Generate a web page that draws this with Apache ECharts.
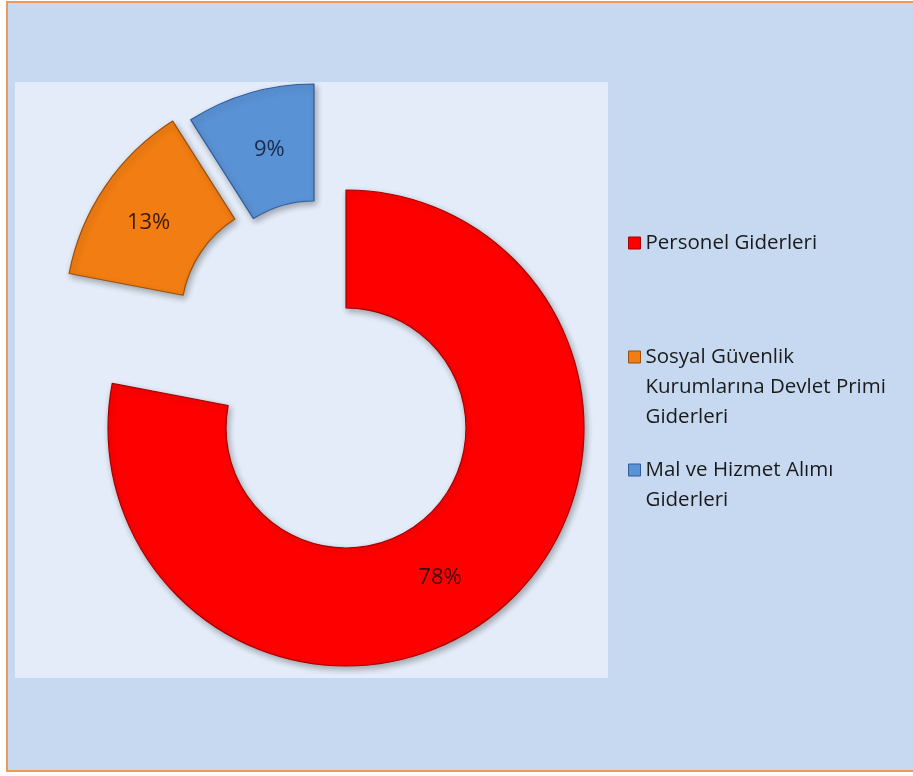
<!DOCTYPE html>
<html>
<head>
<meta charset="utf-8">
<script src="https://cdn.jsdelivr.net/npm/echarts@6/dist/echarts.min.js"></script>
<style>
html,body{margin:0;padding:0;background:#ffffff;}
#chart{width:913px;height:776px;}
</style>
</head>
<body>
<div id="chart"></div>
<script>
// Data
const categories = ['Personel Giderleri', 'Sosyal Güvenlik Kurumlarına Devlet Primi Giderleri', 'Mal ve Hizmet Alımı Giderleri'];
const legendLines = [
  ['Personel Giderleri'],
  ['Sosyal Güvenlik', 'Kurumlarına Devlet Primi', 'Giderleri'],
  ['Mal ve Hizmet Alımı', 'Giderleri']
];
const values = [78, 13, 9];

// Styles
const fills = ['#ff0000', '#f27d12', '#5a92d6'];
const borders = ['#a80000', '#9c4f0a', '#2f5c9a'];
const labelColors = ['#3a0a0a', '#3a1a05', '#1a2a4a'];
const labelOffsets = [[-22, 10], [-2, 5], [4, 3]];
const centers = [[346, 428], [297, 317], [314, 314]];
const radii = [[120, 238], [116, 232], [113, 230]];
const FONT = '"Open Sans", "Noto Sans", sans-serif';

const chart = echarts.init(document.getElementById('chart'), null, {renderer: 'canvas'});

const series = categories.map(function (_, k) {
  return {
    type: 'pie',
    center: centers[k],
    radius: radii[k],
    startAngle: 90,
    clockwise: true,
    silent: true,
    animation: false,
    avoidLabelOverlap: false,
    percentPrecision: 0,
    labelLine: {show: false},
    data: categories.map(function (name, i) {
      const vis = i === k;
      return {
        name: name,
        value: values[i],
        itemStyle: vis ? {
          color: fills[i],
          borderColor: borders[i],
          borderWidth: 1.2,
          shadowBlur: 6,
          shadowOffsetX: 2,
          shadowOffsetY: 3,
          shadowColor: 'rgba(0,0,0,0.3)'
        } : {color: 'rgba(0,0,0,0)', borderWidth: 0},
        label: vis ? {
          show: true,
          position: 'inside',
          formatter: '{d}%',
          offset: labelOffsets[i],
          fontFamily: FONT,
          fontSize: 22,
          color: labelColors[i]
        } : {show: false}
      };
    })
  };
});

// icon aligned with first text line: pad top with blank lines so the block's middle is line 1
const legendTops = [228, 282, 425];
const legends = categories.map(function (name, i) {
  const lines = legendLines[i];
  const padded = new Array(lines.length - 1).fill('').concat(lines).join('\n');
  return {
    orient: 'vertical',
    left: 628,
    top: legendTops[i],
    padding: 0,
    itemWidth: 12,
    itemHeight: 12,
    itemGap: 0,
    selectedMode: false,
    icon: 'rect',
    formatter: function () { return padded; },
    textStyle: {
      fontFamily: FONT,
      fontSize: 20.5,
      color: '#1a1a1a',
      lineHeight: 30
    },
    data: [{name: name, itemStyle: {color: fills[i], borderColor: borders[i], borderWidth: 1}}]
  };
});

chart.setOption({
  animation: false,
  graphic: [
    {type: 'rect', z: -10, silent: true, shape: {x: 7, y: 2, width: 930, height: 769},
     style: {fill: '#c6d9f0', stroke: '#ec9a5c', lineWidth: 2}},
    {type: 'rect', z: -9, silent: true, shape: {x: 15, y: 82, width: 593, height: 596},
     style: {fill: '#e3ecf8'}}
  ],
  legend: legends,
  series: series
});
</script>
</body>
</html>
